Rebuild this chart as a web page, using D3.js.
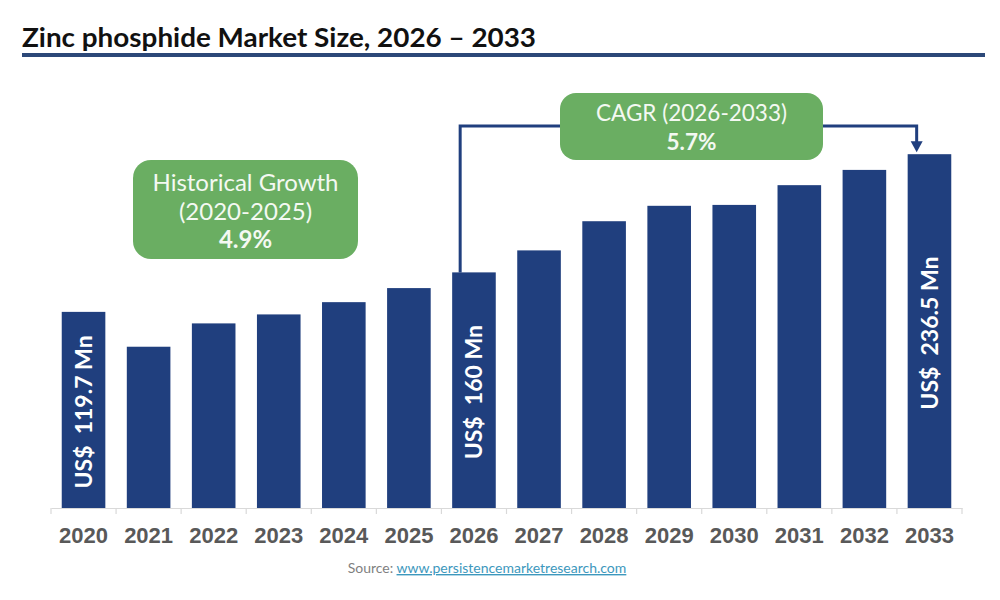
<!DOCTYPE html>
<html><head><meta charset="utf-8">
<script src="https://cdn.jsdelivr.net/npm/d3@7"></script>
<style>
html,body{margin:0;padding:0;background:#fff;}
svg text{white-space:pre;}
</style></head>
<body><svg id="c" width="1000" height="600"></svg>
<script>
const title = "Zinc phosphide Market Size, 2026 \u2013 2033";
const years = ["2020","2021","2022","2023","2024","2025","2026","2027","2028","2029","2030","2031","2032","2033"];
// bar heights (US$ Mn)
const values = [131.1, 107.8, 123.4, 129.4, 137.6, 147.0, 157.5, 172.2, 191.7, 202.0, 202.6, 215.8, 226.0, 236.5];
const labeledYears = ["2020","2026","2033"];
const valueLabels = ["US$  119.7 Mn","US$  160 Mn","US$  236.5 Mn"];
const histLines = ["Historical Growth","(2020-2025)","4.9%"];
const cagrLines = ["CAGR (2026-2033)","5.7%"];
const sourceLabel = "Source: ";
const sourceLink = "www.persistencemarketresearch.com";

const svg = d3.select("#c");
const barColor = "#203f7e", green = "#6aae62", boxText = "#f4f9f2";
const font = "Lato, 'Open Sans', sans-serif";

// title
svg.append("text").attr("x",22).attr("y",47).attr("font-family",font).attr("font-weight",700)
  .attr("font-size",27).attr("fill","#111").attr("textLength",514).attr("lengthAdjust","spacingAndGlyphs").text(title);
svg.append("rect").attr("x",22).attr("y",53).attr("width",963).attr("height",4).attr("fill","#2c4878");

const x = d3.scaleBand().domain(years).range([51,962]).paddingInner(0.33).paddingOuter(0.165);
const y = d3.scaleLinear().domain([0,250]).range([508,134]);

// axis
const axis = d3.axisBottom(x).tickSize(0).tickFormat(d=>d);
const ag = svg.append("g").attr("transform","translate(0,508)").call(axis);
ag.select(".domain").attr("stroke","#d9d9d9").attr("stroke-width",1.2);
ag.selectAll(".tick text").attr("font-family","'Liberation Sans', Arial, sans-serif").attr("font-weight",700)
  .attr("font-size",22).attr("fill","#595959").attr("dy",0).attr("y",35);
const edges = years.map(d=>x(d)-x.step()*x.paddingInner()/2).concat([x(years[years.length-1])+x.bandwidth()+x.step()*x.paddingInner()/2]);
svg.append("g").selectAll("line").data(edges).join("line")
  .attr("x1",d=>d).attr("x2",d=>d).attr("y1",508).attr("y2",514).attr("stroke","#d9d9d9").attr("stroke-width",1.2);

// bars
svg.append("g").selectAll("rect").data(years).join("rect")
  .attr("x",d=>x(d)).attr("width",x.bandwidth())
  .attr("y",(d,i)=>y(values[i])).attr("height",(d,i)=>y(0)-y(values[i]))
  .attr("fill",barColor);

// value labels
svg.append("g").selectAll("text").data(labeledYears).join("text")
  .attr("transform",(d)=>{const i=years.indexOf(d);const cx=x(d)+x.bandwidth()/2;const cy=(y(values[i])+y(0))/2+2;return `translate(${cx},${cy}) rotate(-90)`;})
  .attr("text-anchor","middle").attr("dy","0.36em").attr("font-family",font).attr("font-weight",700)
  .attr("font-size",23).attr("fill","#ffffff").text((d,i)=>valueLabels[i]);

// historical box
const hb = {x:133,y:160,w:225,h:99};
svg.append("rect").attr("x",hb.x).attr("y",hb.y).attr("width",hb.w).attr("height",hb.h).attr("rx",18).attr("fill",green);
svg.append("g").selectAll("text").data(histLines).join("text")
  .attr("x",hb.x+hb.w/2).attr("y",(d,i)=>191+i*28.5).attr("text-anchor","middle").attr("font-family",font)
  .attr("font-weight",(d,i)=>i===2?700:400).attr("font-size",24).attr("fill",boxText).text(d=>d);

// connector
const i26 = years.indexOf("2026"), i33 = years.indexOf("2033");
const x26 = x("2026")+8, x33 = x("2033")+9, ly = 126;
const cb = {x:560,y:93,w:263,h:67};
svg.append("path").attr("d",`M${x26},${y(values[i26])} V${ly} H${cb.x}`).attr("fill","none").attr("stroke",barColor).attr("stroke-width",3);
svg.append("path").attr("d",`M${cb.x+cb.w},${ly} H${x33} V${y(values[i33])-12}`).attr("fill","none").attr("stroke",barColor).attr("stroke-width",3);
svg.append("path").attr("d",`M${x33-6},${y(values[i33])-13} L${x33+6},${y(values[i33])-13} L${x33},${y(values[i33])-2} Z`).attr("fill",barColor);

svg.append("rect").attr("x",cb.x).attr("y",cb.y).attr("width",cb.w).attr("height",cb.h).attr("rx",16).attr("fill",green);
svg.append("g").selectAll("text").data(cagrLines).join("text")
  .attr("x",cb.x+cb.w/2).attr("y",(d,i)=>121+i*29).attr("text-anchor","middle").attr("font-family",font)
  .attr("font-weight",(d,i)=>i===1?700:400).attr("font-size",22.5).attr("fill",boxText).text(d=>d);

// source
const st = svg.append("text").attr("x",487).attr("y",573).attr("text-anchor","middle").attr("font-family",font).attr("font-size",14);
st.append("tspan").attr("fill","#7f7f7f").text(sourceLabel);
st.append("tspan").attr("fill","#3d98bd").attr("text-decoration","underline").text(sourceLink);
</script></body></html>
